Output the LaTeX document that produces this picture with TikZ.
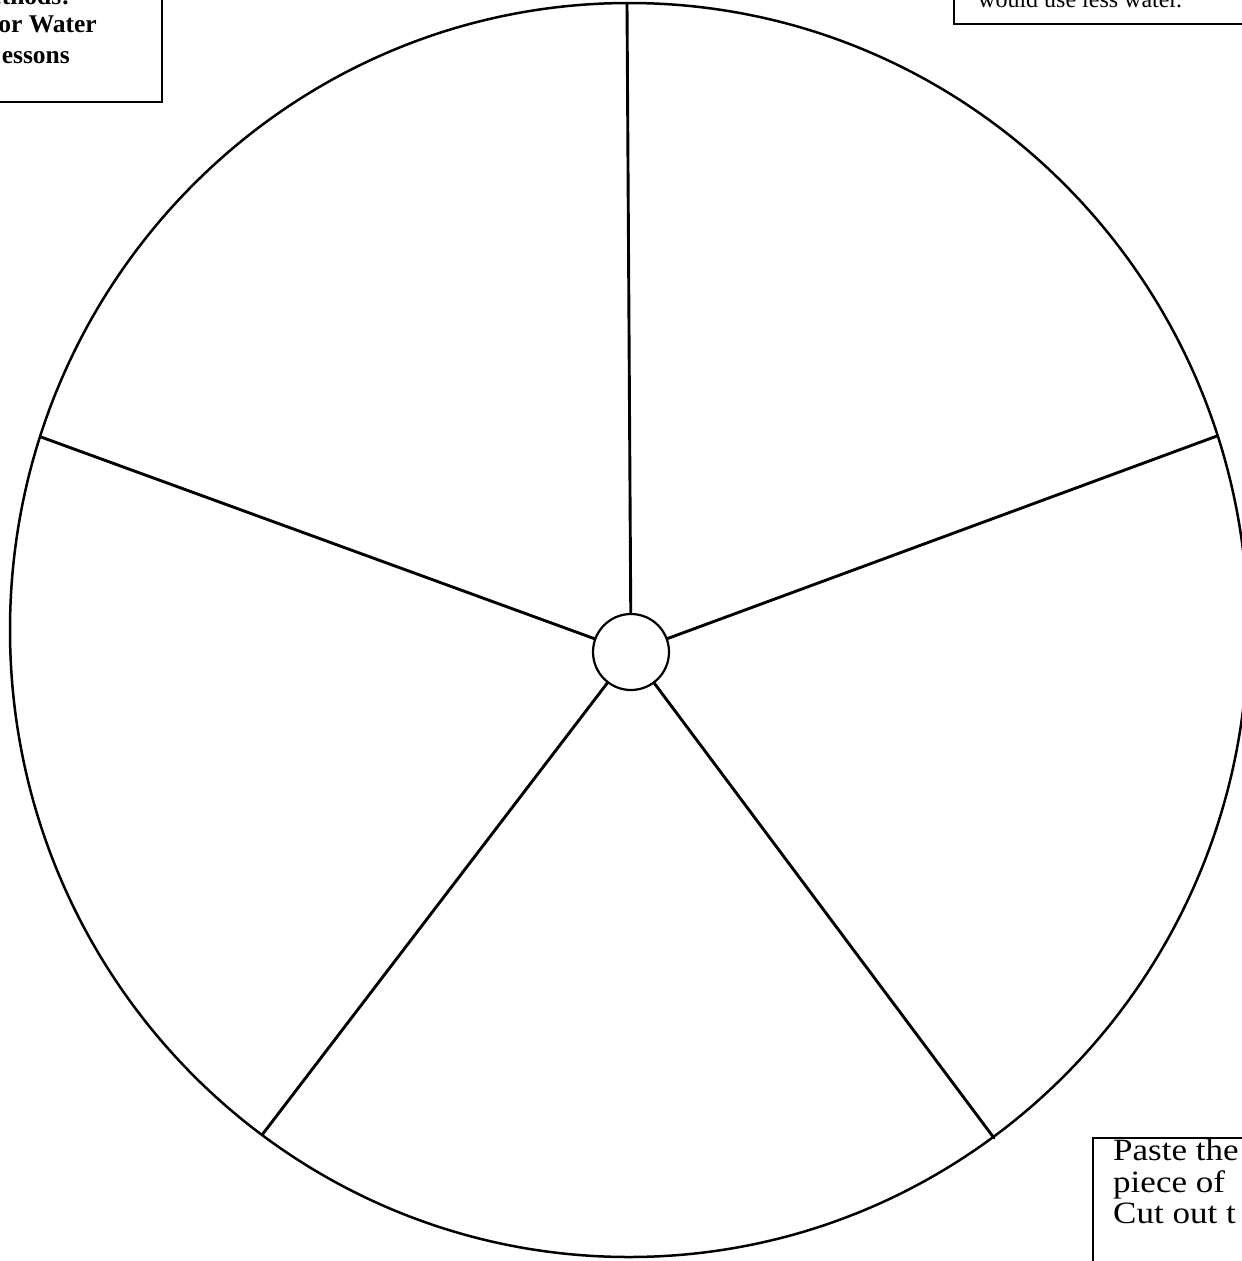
\documentclass[tikz,border=0pt]{standalone}
\usepackage{fontspec}
\setmainfont{Liberation Serif}
\begin{document}
\begin{tikzpicture}[x=1pt,y=-1pt,
  spoke/.style={line width=2.9pt,line cap=round},
  rim/.style={line width=2.5pt},
  boxline/.style={line width=1.5pt},
  lbl/.style={inner sep=0pt,font=\fontsize{24}{30}\selectfont},
  boldlbl/.style={inner sep=0pt,font=\bfseries\fontsize{25.5}{30}\selectfont},
  big/.style={inner sep=0pt,font=\fontsize{31}{31}\selectfont}]
\useasboundingbox (0,0) rectangle (1242,1261);
\clip (0,0) rectangle (1242,1261);
\fill[white] (0,0) rectangle (1242,1261);
% wheel
\draw[rim] (629,630) ellipse [x radius=619, y radius=627];
\node[draw,circle,line width=2.2pt,minimum size=76pt,inner sep=0pt] (c) at (631,652) {};
\coordinate (p1) at (627,4);
\coordinate (p2) at (1217,436);
\coordinate (p3) at (994,1138);
\coordinate (p4) at (262,1135);
\coordinate (p5) at (41,437);
\draw[spoke] (c) -- (p1);
\draw[spoke] (c) -- (p2);
\draw[spoke] (c) -- (p3);
\draw[spoke] (c) -- (p4);
\draw[spoke] (c) -- (p5);
% top-left box
\draw[boxline] (-20,-20) rectangle (162,102);
\node[boldlbl,anchor=base east] (t1) at (70,4) {ethods:};
\node[boldlbl,anchor=base east] (t2) at (97,32.5) {or Water};
\node[boldlbl,anchor=base east] (t3) at (70,63) {essons};
% top-right box
\draw[boxline] (954,-20) rectangle (1270,24);
\node[lbl,anchor=base west] (t4) at (978,7) {would use less water.};
% bottom-right box
\draw[boxline] (1093,1138) rectangle (1270,1280);
\node[big,anchor=base west] (b1) at (1113,1160) {\scalebox{1.13}[1]{Paste the}};
\node[big,anchor=base west] (b2) at (1113,1192) {\scalebox{1.13}[1]{piece of}};
\node[big,anchor=base west] (b3) at (1113,1223.5) {\scalebox{1.13}[1]{Cut out t}};
\end{tikzpicture}
\end{document}
